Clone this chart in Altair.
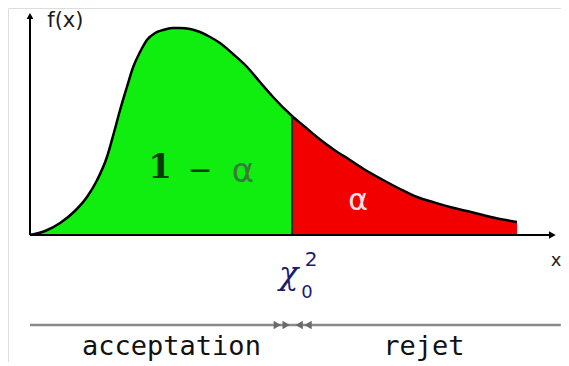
import altair as alt
import pandas as pd

# density curve (chi-square like shape)
x_vals = [0, 0.46, 0.92, 1.37, 1.74, 2.05, 2.35, 2.56, 2.75, 2.96, 3.15, 3.36, 3.57, 3.82,
          4.06, 4.34, 4.58, 4.89, 5.19, 5.5, 5.8, 6.2, 6.63, 7.02, 7.42, 8.0, 8.4, 8.76,
          9.25, 9.77, 10.29, 10.78, 11.3, 11.82, 12.3, 12.82, 13.34, 13.83, 14.35, 14.87]
f_vals = [0, 0.004, 0.012, 0.024, 0.038, 0.055, 0.078, 0.102, 0.125, 0.148, 0.168, 0.183,
          0.195, 0.202, 0.205, 0.207, 0.207, 0.206, 0.203, 0.198, 0.192, 0.181, 0.168, 0.153,
          0.138, 0.119, 0.108, 0.098, 0.086, 0.075, 0.064, 0.055, 0.046, 0.038, 0.033, 0.028,
          0.024, 0.020, 0.016, 0.013]
chi0 = 8.0
f_chi0 = 0.119

labels_axis = ["f(x)", "x"]
labels_area = ["1", "−", "α", "α"]
labels_zone = ["acceptation", "rejet"]

df = pd.DataFrame({"x": x_vals, "f": f_vals})

X = alt.Scale(domain=[-0.6718, 16.214], nice=False, zero=False)
Y = alt.Scale(domain=[-0.127, 0.227], nice=False, zero=False)

base = alt.Chart(df)

green = base.mark_area(color="#10ee10", opacity=1, interpolate="monotone").encode(
    x=alt.X("x:Q", scale=X, axis=None), y=alt.Y("f:Q", scale=Y, axis=None),
    y2=alt.datum(0)
).transform_filter(alt.datum.x <= chi0)

red = base.mark_area(color="#f20000", opacity=1, interpolate="monotone").encode(
    x=alt.X("x:Q", scale=X, axis=None), y=alt.Y("f:Q", scale=Y, axis=None),
    y2=alt.datum(0)
).transform_filter(alt.datum.x >= chi0)

curve = base.mark_line(color="black", strokeWidth=2.5, interpolate="monotone").encode(
    x=alt.X("x:Q", scale=X, axis=None), y=alt.Y("f:Q", scale=Y, axis=None)
)

one = alt.Chart(pd.DataFrame({"a": [0]}))

split = one.mark_rule(color="#202020", strokeWidth=2).encode(
    x=alt.datum(chi0, scale=X), y=alt.datum(0, scale=Y), y2=alt.datum(f_chi0)
)

xaxis = one.mark_rule(color="black", strokeWidth=2).encode(
    x=alt.datum(0, scale=X), x2=alt.datum(15.9), y=alt.datum(0, scale=Y)
)
yaxis = one.mark_rule(color="black", strokeWidth=2).encode(
    x=alt.datum(0, scale=X), y=alt.datum(0, scale=Y), y2=alt.datum(0.218)
)
xarrow = one.mark_point(shape="triangle-right", filled=True, color="black", size=60, opacity=1).encode(
    x=alt.datum(15.95, scale=X), y=alt.datum(0, scale=Y)
)
yarrow = one.mark_point(shape="triangle-up", filled=True, color="black", size=45, opacity=1).encode(
    x=alt.datum(0, scale=X), y=alt.datum(0.219, scale=Y)
)

fx_text = one.mark_text(text=labels_axis[0], fontSize=21, font="DejaVu Sans", color="#1a1a1a",
                        align="center", baseline="middle").encode(
    x=alt.datum(1.08, scale=X), y=alt.datum(0.214, scale=Y))
x_text = one.mark_text(text=labels_axis[1], fontSize=18, font="DejaVu Sans", color="#222",
                       align="center", baseline="middle").encode(
    x=alt.datum(16.06, scale=X), y=alt.datum(-0.026, scale=Y))

chi_text = one.mark_text(text="χ", fontSize=32, font="DejaVu Serif", fontStyle="italic",
                         color="#1c1c70", align="center", baseline="middle").encode(
    x=alt.datum(7.9, scale=X), y=alt.datum(-0.039, scale=Y))
sup_text = one.mark_text(text="2", fontSize=20, font="DejaVu Sans", color="#1c1c70",
                         align="center", baseline="middle").encode(
    x=alt.datum(8.58, scale=X), y=alt.datum(-0.025, scale=Y))
sub_text = one.mark_text(text="0", fontSize=18, font="DejaVu Sans", color="#1c1c70",
                         align="center", baseline="middle").encode(
    x=alt.datum(8.46, scale=X), y=alt.datum(-0.058, scale=Y))

one_text = one.mark_text(text=labels_area[0], fontSize=34, font="DejaVu Serif", fontWeight="bold",
                         color="#0a3a0a", align="center", baseline="middle").encode(
    x=alt.datum(3.97, scale=X), y=alt.datum(0.067, scale=Y))
minus_text = one.mark_text(text=labels_area[1], fontSize=30, font="DejaVu Sans", color="#0a3a0a",
                           align="center", baseline="middle").encode(
    x=alt.datum(5.19, scale=X), y=alt.datum(0.064, scale=Y))
alpha_g = one.mark_text(text=labels_area[2], fontSize=34, font="DejaVu Sans", color="#3c7a3c",
                        align="center", baseline="middle").encode(
    x=alt.datum(6.5, scale=X), y=alt.datum(0.063, scale=Y))
alpha_r = one.mark_text(text=labels_area[3], fontSize=30, font="DejaVu Sans", color="#f8e4e4",
                        align="center", baseline="middle").encode(
    x=alt.datum(10.02, scale=X), y=alt.datum(0.034, scale=Y))

bottom = one.mark_rule(color="#8a8a8a", strokeWidth=2.5).encode(
    x=alt.datum(0, scale=X), x2=alt.datum(16.21), y=alt.datum(-0.090, scale=Y)
)
arr_r = alt.Chart(pd.DataFrame({"k": [0, 1]})).mark_point(
    shape="triangle-right", filled=True, color="#6a6a6a", size=70, opacity=1).encode(
    x=alt.X("px:Q", scale=X), y=alt.datum(-0.090, scale=Y)
).transform_calculate(px="7.55 + datum.k * 0.27")
arr_l = alt.Chart(pd.DataFrame({"k": [0, 1]})).mark_point(
    shape="triangle-left", filled=True, color="#6a6a6a", size=70, opacity=1).encode(
    x=alt.X("px:Q", scale=X), y=alt.datum(-0.090, scale=Y)
).transform_calculate(px="8.22 + datum.k * 0.27")

acc_text = one.mark_text(text=labels_zone[0], fontSize=27, font="DejaVu Sans Mono", color="#111",
                         align="center", baseline="alphabetic").encode(
    x=alt.datum(4.32, scale=X), y=alt.datum(-0.120, scale=Y))
rej_text = one.mark_text(text=labels_zone[1], fontSize=27, font="DejaVu Sans Mono", color="#111",
                         align="center", baseline="alphabetic").encode(
    x=alt.datum(12.03, scale=X), y=alt.datum(-0.120, scale=Y))

chart = alt.layer(
    green, red, curve, split, xaxis, yaxis, xarrow, yarrow,
    fx_text, x_text, chi_text, sup_text, sub_text, one_text, minus_text, alpha_g, alpha_r,
    bottom, arr_r, arr_l, acc_text, rej_text
).properties(
    width=553, height=354, padding=0, autosize=alt.AutoSizeParams(type="none")
).configure_view(stroke=None).configure(background="white")

chart.save("out.html", embed_options={"renderer": "svg", "actions": False})
